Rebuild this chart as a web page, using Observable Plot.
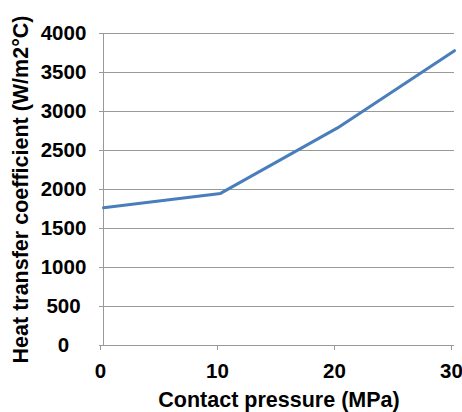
<!DOCTYPE html>
<html>
<head>
<meta charset="utf-8">
<script src="https://cdn.jsdelivr.net/npm/d3@7"></script>
<script src="https://cdn.jsdelivr.net/npm/@observablehq/plot@0.6"></script>
<style>
  html, body { margin: 0; padding: 0; background: #fff; }
</style>
</head>
<body>
<div id="chart"></div>
<script>
const pressure = [0, 10, 20, 30];
const htc = [1765, 1950, 2790, 3780];
const xTicks = [0, 10, 20, 30];
const yTicks = [0, 500, 1000, 1500, 2000, 2500, 3000, 3500, 4000];
const xTitle = "Contact pressure (MPa)";
const yTitle = "Heat transfer coefficient (W/m2°C)";

const data = pressure.map((p, i) => ({p, h: htc[i]}));
const grid = "#9a9a9a";

const chart = Plot.plot({
  width: 462,
  height: 412,
  marginLeft: 103,
  marginRight: 8,
  marginTop: 33,
  marginBottom: 67,
  style: {
    fontFamily: "'Liberation Sans', Arial, sans-serif",
    fontWeight: "bold",
    fontSize: "20.5px",
    color: "#000",
    background: "#fff"
  },
  x: {domain: [0, 30]},
  y: {domain: [0, 4000]},
  marks: [
    Plot.gridY(yTicks, {stroke: grid, strokeOpacity: 1, strokeWidth: 1}),
    Plot.ruleX([0], {stroke: grid, strokeWidth: 1, y1: 0, y2: 4000}),
    Plot.axisY(yTicks, {
      tickSize: 4, tickPadding: 36, textAnchor: "middle",
      tickFormat: d => String(d),
      stroke: grid, fill: "#000", label: null
    }),
    Plot.axisY([], {
      tickSize: 0, fontSize: 21.5, dy: -9,
      label: yTitle, labelAnchor: "center", labelOffset: 91, labelArrow: "none"
    }),
    Plot.axisX(xTicks, {
      tickSize: 5, tickPadding: 13, dx: -3,
      tickFormat: d => String(d),
      stroke: grid, fill: "#000", label: null
    }),
    Plot.axisX([], {
      tickSize: 0, fontSize: 21.5,
      label: xTitle, labelAnchor: "center", labelOffset: 61, labelArrow: "none"
    }),
    Plot.line(data, {x: "p", y: "h", stroke: "#4a7ebb", strokeWidth: 3, strokeLinecap: "round", strokeLinejoin: "round"})
  ]
});
document.getElementById("chart").appendChild(chart);
</script>
</body>
</html>
